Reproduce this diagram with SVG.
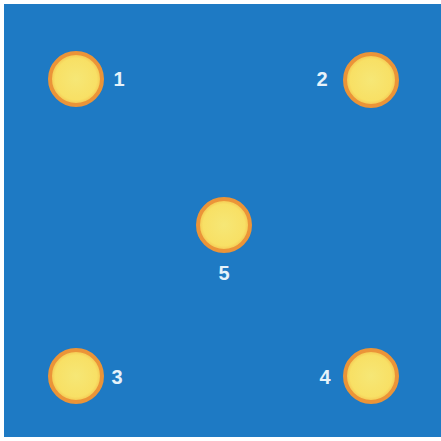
<svg xmlns="http://www.w3.org/2000/svg" width="441" height="441" viewBox="0 0 441 441">
<defs>
<radialGradient id="g" cx="0.5" cy="0.5" r="0.5">
<stop offset="0" stop-color="#F6E776"/>
<stop offset="0.8" stop-color="#F8E065"/>
<stop offset="1" stop-color="#F4C14E"/>
</radialGradient>
</defs>
<style>
.pt{fill:url(#g);stroke:#EB9438;stroke-width:4}
.lb{font-family:"Liberation Sans",Arial,sans-serif;font-weight:bold;font-size:20px;fill:#E6F2FA;dominant-baseline:central;text-anchor:middle}
</style>
<rect x="0" y="0" width="441" height="441" fill="#FFFFFF"/>
<rect x="4" y="4" width="437" height="433" fill="#1E7AC4"/>
<g id="connectors"></g>
<g id="node1"><circle class="pt" cx="76" cy="79" r="26"/><text class="lb" x="119" y="79">1</text></g>
<g id="node2"><circle class="pt" cx="371" cy="80" r="26"/><text class="lb" x="322" y="79">2</text></g>
<g id="node5"><circle class="pt" cx="224" cy="225" r="26"/><text class="lb" x="224" y="273">5</text></g>
<g id="node3"><circle class="pt" cx="76" cy="376" r="26"/><text class="lb" x="117" y="377">3</text></g>
<g id="node4"><circle class="pt" cx="371" cy="376" r="26"/><text class="lb" x="325" y="377">4</text></g>
</svg>
